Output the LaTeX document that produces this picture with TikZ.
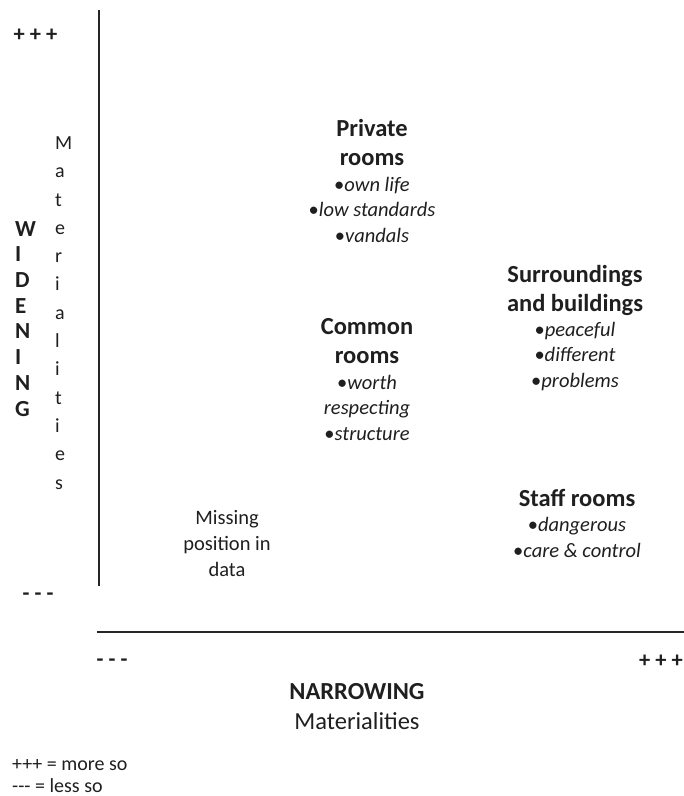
\documentclass[tikz,border=0pt]{standalone}
\usepackage{fontspec}
\setmainfont{Carlito}
\usetikzlibrary{positioning}

\newcommand{\bul}[1]{•\textit{#1}}

\begin{document}
\begin{tikzpicture}[
  x=1pt, y=-1pt,
  font=\fontsize{20.5}{25.5}\selectfont,
  every node/.style={text=black!88},
  lbl/.style={align=center, inner sep=0pt, anchor=base},
  head/.style={lbl, font=\fontsize{24.5}{29}\selectfont\bfseries},
  items/.style={lbl, font=\fontsize{20.5}{25.5}\selectfont},
  endmark/.style={inner sep=0pt, anchor=base, font=\fontsize{22.5}{24}\selectfont\bfseries},
  axis/.style={line width=1.7pt, black!85}
]
\useasboundingbox (0,0) rectangle (684,796);

% Axes
\coordinate (ytop) at (99,10);
\coordinate (ybot) at (99,586);
\coordinate (xleft) at (97,632);
\coordinate (xright) at (684,632);
\draw[axis] (ytop) -- (ybot);
\draw[axis] (xleft) -- (xright);

% Axis ends
\node[endmark] (yplus) at (35.5,41) {+ + +};
\node[endmark] (yminus) at (38,600) {- - -};
\node[endmark] (xminus) at (112,666) {- - -};
\node[endmark] (xplus) at (661,667) {+ + +};

% Axis titles
\node[inner sep=0pt, anchor=base west, align=left, font=\fontsize{23}{25.7}\selectfont\bfseries] (widening) at (15,416)
  {W\\I\\D\\E\\N\\I\\N\\G};
\node[inner sep=0pt, anchor=base west, align=left, font=\fontsize{20}{28.3}\selectfont] (materialv) at (55,489)
  {M\\a\\t\\e\\r\\i\\a\\l\\i\\t\\i\\e\\s};
\node[lbl, font=\fontsize{24.5}{30}\selectfont] (narrowing) at (357,729) {\textbf{NARROWING}\\Materialities};

% Rooms
\node[head] (privateh) at (372,165) {Private\\rooms};
\node[items] (privatei) at (372,242) {\bul{own life}\\\bul{low standards}\\\bul{vandals}};

\node[head] (commonh) at (367,363) {Common\\rooms};
\node[items] (commoni) at (367,440) {\bul{worth}\\\textit{respecting}\\\bul{structure}};

\node[head] (surroundh) at (575,311) {Surroundings\\and buildings};
\node[items] (surroundi) at (575,387) {\bul{peaceful}\\\bul{different}\\\bul{problems}};

\node[head] (staffh) at (577,506) {Staff rooms};
\node[items] (staffi) at (577,557) {\bul{dangerous}\\\bul{care \& control}};

\node[lbl, font=\fontsize{20.5}{26}\selectfont] (missing) at (227,576) {Missing\\position in\\data};

% Key
\node[inner sep=0pt, anchor=base west, align=left, font=\fontsize{20}{22}\selectfont] (key) at (12,792)
  {+++ = more so\\-{}-{}- = less so};

\end{tikzpicture}
\end{document}
